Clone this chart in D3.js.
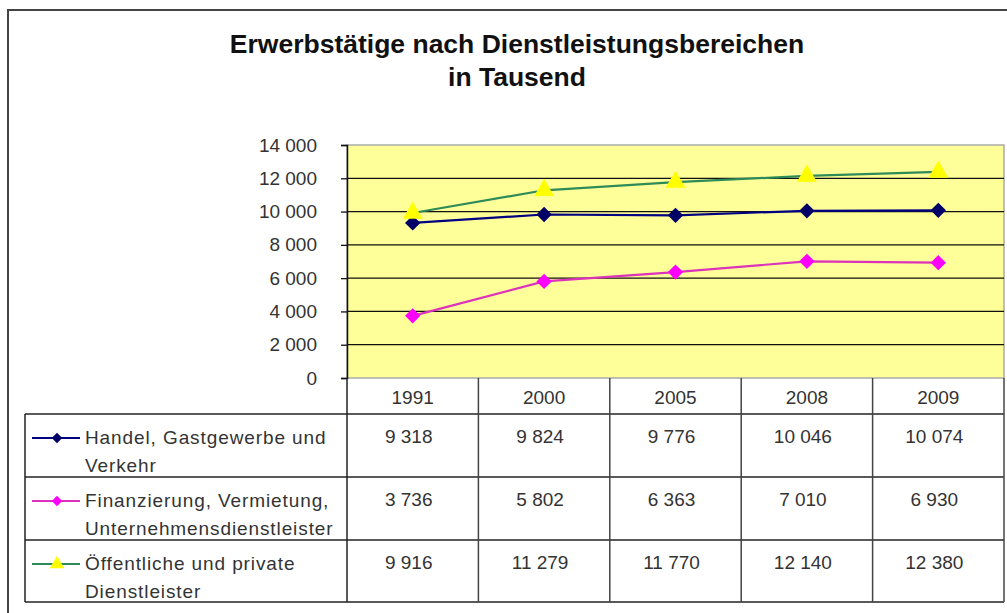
<!DOCTYPE html>
<html>
<head>
<meta charset="utf-8">
<script src="https://cdn.jsdelivr.net/npm/d3@7"></script>
<style>
  body { margin: 0; background: #fff; }
  svg { display: block; font-family: Arial, "Liberation Sans", sans-serif; }
</style>
</head>
<body>
<svg id="chart"></svg>
<script>
// data
var years = ["1991", "2000", "2005", "2008", "2009"];
var handel = [9318, 9824, 9776, 10046, 10074];
var finanz = [3736, 5802, 6363, 7010, 6930];
var oeffentlich = [9916, 11279, 11770, 12140, 12380];
var seriesNames = [
  ["Handel, Gastgewerbe und", "Verkehr"],
  ["Finanzierung, Vermietung,", "Unternehmensdienstleister"],
  ["Öffentliche und private", "Dienstleister"]
];
var yTicks = [0, 2000, 4000, 6000, 8000, 10000, 12000, 14000];

var width = 1007, height = 613;

var series = [
  {name: seriesNames[0], values: handel, line: "#000080", fill: "#000066", sym: "diamond"},
  {name: seriesNames[1], values: finanz, line: "#dd33bb", fill: "#ff00ff", sym: "diamond"},
  {name: seriesNames[2], values: oeffentlich, line: "#2e8b57", fill: "#ffff00", sym: "triangle"}
];

var de = d3.formatLocale({decimal: ",", thousands: " ", grouping: [3], currency: ["", " €"]});
var fmt = de.format(",d");

var svg = d3.select("#chart")
  .attr("width", width)
  .attr("height", height);

// outer frame
svg.append("rect")
  .attr("x", 8).attr("y", 10)
  .attr("width", 1010).attr("height", 620)
  .attr("fill", "none")
  .attr("stroke", "#444")
  .attr("stroke-width", 2);

// title
var title = svg.append("text")
  .attr("x", 517).attr("y", 53)
  .attr("text-anchor", "middle")
  .style("font-size", "26.5px")
  .style("font-weight", "bold")
  .attr("fill", "#111");
title.append("tspan").attr("x", 517).text("Erwerbstätige nach Dienstleistungsbereichen");
title.append("tspan").attr("x", 517).attr("dy", 33).text("in Tausend");

var plotLeft = 347, plotRight = 1004, plotTop = 145, plotBottom = 378;

var x = d3.scaleBand().domain(years).range([plotLeft, plotRight]).padding(0);
var y = d3.scaleLinear().domain([0, 14000]).range([plotBottom, plotTop]);

// plot background
svg.append("rect")
  .attr("x", plotLeft).attr("y", plotTop)
  .attr("width", plotRight - plotLeft).attr("height", plotBottom - plotTop)
  .attr("fill", "#ffff99")
  .attr("stroke", "#aaa")
  .attr("stroke-width", 1.5);

// gridlines
svg.append("g")
  .selectAll("line")
  .data(yTicks.filter(d => d > 0 && d < 14000))
  .enter().append("line")
  .attr("x1", plotLeft).attr("x2", plotRight)
  .attr("y1", d => y(d)).attr("y2", d => y(d))
  .attr("stroke", "#111")
  .attr("stroke-width", 1.3);

// y axis
var yAxis = svg.append("g")
  .attr("transform", "translate(" + plotLeft + ",0)")
  .call(d3.axisLeft(y).tickValues(yTicks).tickSize(6).tickPadding(24).tickFormat(fmt));
yAxis.select(".domain").attr("stroke", "#111").attr("stroke-width", 1.5);
yAxis.selectAll(".tick line").attr("stroke", "#111").attr("stroke-width", 1.3);
yAxis.selectAll("text")
  .style("font-family", "Arial, 'Liberation Sans', sans-serif")
  .style("font-size", "19px")
  .attr("fill", "#333");

// lines
var line = d3.line()
  .x((d, i) => x(years[i]) + x.bandwidth() / 2)
  .y(d => y(d));

var diamond = d3.symbol().type(d3.symbolDiamond2).size(150);
var triangle = d3.symbol().type(d3.symbolTriangle).size(170);

series.forEach(function (s) {
  svg.append("path")
    .datum(s.values)
    .attr("d", line)
    .attr("fill", "none")
    .attr("stroke", s.line)
    .attr("stroke-width", 2.2);
});

series.forEach(function (s) {
  svg.append("g")
    .selectAll("path")
    .data(s.values)
    .enter().append("path")
    .attr("d", s.sym === "diamond" ? diamond : triangle)
    .attr("transform", (d, i) => "translate(" + (x(years[i]) + x.bandwidth() / 2) + "," + y(d) + ")")
    .attr("fill", s.fill);
});

// data table
var tableLeft = 25;
var headerBottom = 414;
var rowH = 63;
var tableBottom = headerBottom + rowH * 3 - 1;
var tbl = svg.append("g");

// header row cells
tbl.selectAll("text.year")
  .data(years)
  .enter().append("text")
  .attr("class", "year")
  .attr("x", d => x(d) + x.bandwidth() / 2)
  .attr("y", 404)
  .attr("text-anchor", "middle")
  .style("font-size", "19px")
  .attr("fill", "#333")
  .text(d => d);

// horizontal rules
var hRules = [headerBottom, headerBottom + rowH, headerBottom + rowH * 2, tableBottom];
tbl.selectAll("line.h")
  .data(hRules)
  .enter().append("line")
  .attr("class", "h")
  .attr("x1", tableLeft).attr("x2", plotRight)
  .attr("y1", d => d).attr("y2", d => d)
  .attr("stroke", "#222")
  .attr("stroke-width", 1.5);

// vertical rules
tbl.selectAll("line.v")
  .data(years.slice(1).map(d => x(d)).concat([plotRight]))
  .enter().append("line")
  .attr("class", "v")
  .attr("x1", d => d).attr("x2", d => d)
  .attr("y1", plotBottom).attr("y2", tableBottom)
  .attr("stroke", "#444")
  .attr("stroke-width", 1.5);
tbl.append("line")
  .attr("x1", plotLeft).attr("x2", plotLeft)
  .attr("y1", plotBottom).attr("y2", tableBottom)
  .attr("stroke", "#222").attr("stroke-width", 1.5);
tbl.append("line")
  .attr("x1", tableLeft).attr("x2", tableLeft)
  .attr("y1", headerBottom).attr("y2", tableBottom)
  .attr("stroke", "#222").attr("stroke-width", 1.5);

// rows
series.forEach(function (s, r) {
  var rowTop = headerBottom + r * rowH;
  var g = tbl.append("g");
  var ly = rowTop + 24;

  g.append("line")
    .attr("x1", 32).attr("x2", 80)
    .attr("y1", ly).attr("y2", ly)
    .attr("stroke", s.line)
    .attr("stroke-width", 2.2);
  g.append("path")
    .attr("d", (s.sym === "diamond" ? d3.symbol().type(d3.symbolDiamond2).size(70) : d3.symbol().type(d3.symbolTriangle).size(90))())
    .attr("transform", "translate(57," + ly + ")")
    .attr("fill", s.fill);

  var t = g.append("text")
    .attr("x", 85).attr("y", rowTop + 30)
    .style("font-size", "19px")
    .style("letter-spacing", "0.9px")
    .attr("fill", "#333");
  t.append("tspan").attr("x", 85).text(s.name[0]);
  t.append("tspan").attr("x", 85).attr("dy", 28).text(s.name[1]);

  g.selectAll("text.val")
    .data(s.values)
    .enter().append("text")
    .attr("class", "val")
    .attr("x", (d, i) => x(years[i]) + x.bandwidth() / 2 - 4)
    .attr("y", rowTop + 29)
    .attr("text-anchor", "middle")
    .style("font-size", "19px")
    .attr("fill", "#333")
    .text(d => fmt(d));
});
</script>
</body>
</html>
